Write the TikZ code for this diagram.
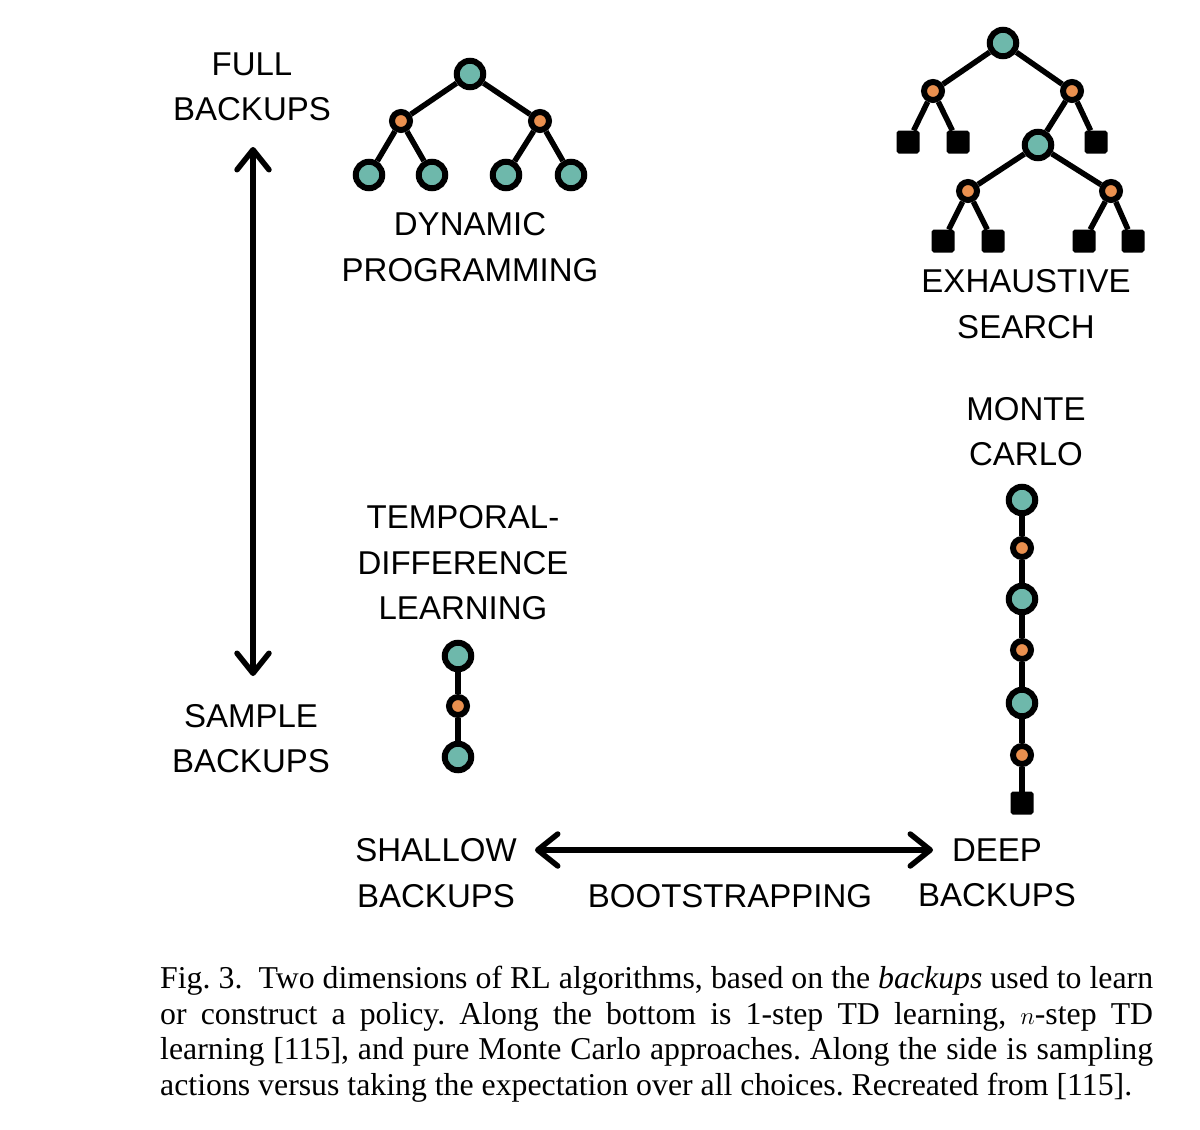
\documentclass[tikz,border=0pt]{standalone}
\usepackage{fontspec}
\setmainfont{Liberation Serif}
\newfontfamily\lblfont{Liberation Sans}
\usetikzlibrary{arrows.meta}
\definecolor{stcol}{HTML}{6EB8AB}
\definecolor{actcol}{HTML}{EA904F}
\begin{document}
\begin{tikzpicture}[x=1pt,y=-1pt,
  state/.style={circle,draw=black,line width=6pt,fill=stcol,minimum size=26.5pt,inner sep=0pt},
  act/.style={circle,draw=black,line width=6pt,fill=actcol,minimum size=18pt,inner sep=0pt},
  term/.style={rectangle,draw=black,fill=black,line width=2pt,minimum size=21pt,inner sep=0pt,rounded corners=1.5pt},
  edge/.style={line width=5.5pt},
  lbl/.style={font=\lblfont\fontsize{33}{45.5}\selectfont,align=center,inner sep=0pt},
  dbl/.style={line width=5.5pt,{Straight Barb[length=20pt,width=32pt,round]}-{Straight Barb[length=20pt,width=32pt,round]}},
]
\useasboundingbox[fill=white] (0,0) rectangle (1200,1130);

% Left axis
\node[lbl] (full) at (252,87) {FULL\\BACKUPS};
\node[lbl] (sample) at (251,738.5) {SAMPLE\\BACKUPS};
\coordinate (vtop) at (253,147);
\coordinate (vbot) at (253,676);
\draw[dbl] (vtop) -- (vbot);

% Dynamic programming tree
\node[state] (dp0) at (470,74) {};
\node[act] (dp1) at (401,121) {};
\node[act] (dp2) at (540,121) {};
\node[state] (dp3) at (369,175) {};
\node[state] (dp4) at (432,175) {};
\node[state] (dp5) at (506,175) {};
\node[state] (dp6) at (571,175) {};
\draw[edge] (dp0) -- (dp1) (dp0) -- (dp2)
  (dp1) -- (dp3) (dp1) -- (dp4) (dp2) -- (dp5) (dp2) -- (dp6);
\node[lbl] (dplbl) at (470,247) {DYNAMIC\\PROGRAMMING};

% Exhaustive search tree
\node[state] (es0) at (1003,43) {};
\node[act] (es1) at (933,91) {};
\node[act] (es2) at (1072,91) {};
\node[term] (es3) at (908,142) {};
\node[term] (es4) at (958,142) {};
\node[term] (es5) at (1096,142) {};
\node[state] (es6) at (1038,145) {};
\node[act] (es7) at (968,191) {};
\node[act] (es8) at (1111,191) {};
\node[term] (es9) at (943,241) {};
\node[term] (es10) at (993,241) {};
\node[term] (es11) at (1084,241) {};
\node[term] (es12) at (1133,241) {};
\draw[edge] (es0) -- (es1) (es0) -- (es2)
  (es1) -- (es3) (es1) -- (es4) (es2) -- (es6) (es2) -- (es5)
  (es6) -- (es7) (es6) -- (es8)
  (es7) -- (es9) (es7) -- (es10) (es8) -- (es11) (es8) -- (es12);
\node[lbl] (eslbl) at (1026,304) {EXHAUSTIVE\\SEARCH};

% Monte Carlo chain
\node[lbl] (mclbl) at (1026,431.5) {MONTE\\CARLO};
\node[state] (mc0) at (1022,500) {};
\node[act] (mc1) at (1022,548) {};
\node[state] (mc2) at (1022,599) {};
\node[act] (mc3) at (1022,650) {};
\node[state] (mc4) at (1022,703) {};
\node[act] (mc5) at (1022,755) {};
\node[term] (mc6) at (1022,803) {};
\draw[edge] (mc0) -- (mc1) -- (mc2) -- (mc3) -- (mc4) -- (mc5) -- (mc6);

% TD chain
\node[lbl] (tdlbl) at (463,563) {TEMPORAL-\\DIFFERENCE\\LEARNING};
\node[state] (td0) at (458,656) {};
\node[act] (td1) at (458,706) {};
\node[state] (td2) at (458,757) {};
\draw[edge] (td0) -- (td1) -- (td2);

% Bottom axis
\node[lbl] (shallow) at (436,873) {SHALLOW\\BACKUPS};
\node[lbl] (deep) at (997,873) {DEEP\\BACKUPS};
\node[lbl] (boot) at (730,896) {BOOTSTRAPPING};
\coordinate (hl) at (535,850);
\coordinate (hr) at (933,850);
\draw[dbl] (hl) -- (hr);

% Caption
\node[anchor=north west,inner sep=0pt,text width=993pt,align=justify,
  font=\fontsize{31.8}{35.5}\selectfont\frenchspacing] (cap) at (160,966)
  {Fig.~3.\ \ Two dimensions of RL algorithms, based on the \textit{backups} used to learn\linebreak
   or construct a policy. Along the bottom is 1-step TD learning, $n$-step TD\linebreak
   learning [115], and pure Monte Carlo approaches. Along the side is sampling\linebreak
   actions versus taking the expectation over all choices. Recreated from [115].};
\end{tikzpicture}
\end{document}
